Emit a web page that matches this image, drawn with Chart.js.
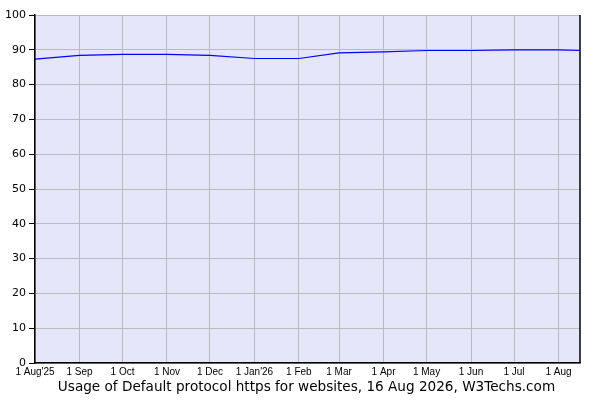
<!DOCTYPE html>
<html>
<head>
<meta charset="utf-8">
<script src="https://cdn.jsdelivr.net/npm/chart.js@4.4.1/dist/chart.umd.min.js"></script>
<style>
  html, body { margin: 0; padding: 0; background: #fff; }
  #wrap { width: 600px; height: 400px; }
</style>
</head>
<body>
<div id="wrap"><canvas id="usage-chart"></canvas></div>
<script>
'use strict';

// sample dates and usage in percent
const sampleDates = ['2025-08-01', '2025-09-01', '2025-10-01', '2025-11-01', '2025-12-01', '2026-01-01',
  '2026-02-01', '2026-03-01', '2026-04-01', '2026-05-01', '2026-06-01', '2026-07-01', '2026-08-01', '2026-08-16'];
const httpsUsage = [87.3, 88.4, 88.7, 88.7, 88.4, 87.5, 87.5, 89.1, 89.4, 89.8, 89.8, 90.0, 90.0, 89.8];

// month ticks on the x axis
const tickDates = ['2025-08-01', '2025-09-01', '2025-10-01', '2025-11-01', '2025-12-01', '2026-01-01',
  '2026-02-01', '2026-03-01', '2026-04-01', '2026-05-01', '2026-06-01', '2026-07-01', '2026-08-01'];
const tickLabels = ["1 Aug'25", '1 Sep', '1 Oct', '1 Nov', '1 Dec', "1 Jan'26",
  '1 Feb', '1 Mar', '1 Apr', '1 May', '1 Jun', '1 Jul', '1 Aug'];

const startDate = '2025-08-01';
const endDate = '2026-08-16';
const captionText = 'Usage of Default protocol https for websites, 16 Aug 2026, W3Techs.com';

const dayOf = function(str){
  const ms = Date.parse(str + 'T00:00:00Z') - Date.parse(startDate + 'T00:00:00Z');
  return Math.round(ms / 86400000);
};

const points = sampleDates.map((d, i) => ({x: dayOf(d), y: httpsUsage[i]}));
const tickDays = tickDates.map(dayOf);

// lavender plot background, right border and the caption under the chart
const plotFrame = {
  id: 'plotFrame',
  beforeDraw(chart){
    const {ctx, chartArea: a} = chart;
    ctx.save();
    ctx.fillStyle = '#e6e6fa';
    ctx.fillRect(a.left, a.top, a.right - a.left, a.bottom - a.top);
    ctx.restore();
  },
  afterDraw(chart){
    const {ctx, chartArea: a} = chart;
    ctx.save();
    ctx.strokeStyle = '#000';
    ctx.lineWidth = 1.5;
    ctx.beginPath();
    ctx.moveTo(a.right, a.top);
    ctx.lineTo(a.right, a.bottom);
    ctx.stroke();

    ctx.fillStyle = '#000';
    ctx.font = '13.6px "DejaVu Sans"';
    ctx.textAlign = 'center';
    ctx.textBaseline = 'middle';
    ctx.fillText(captionText, (a.left + a.right) / 2 - 1, a.bottom + 24);
    ctx.restore();
  }
};

const chart = new Chart(document.getElementById('usage-chart').getContext('2d'), {
  type: 'line',
  data: {
    datasets: [{
      label: 'Default protocol https',
      data: points,
      borderColor: '#0000ff',
      borderWidth: 1.2,
      pointRadius: 0,
      tension: 0,
      fill: false
    }]
  },
  options: {
    responsive: true,
    maintainAspectRatio: false,
    animation: false,
    layout: { padding: { left: 0, right: 20, top: 15, bottom: 22 } },
    plugins: {
      legend: { display: false },
      tooltip: { enabled: false },
      title: { display: false }
    },
    scales: {
      x: {
        type: 'linear',
        min: 0,
        max: dayOf(endDate),
        afterBuildTicks: scale => { scale.ticks = tickDays.map(v => ({value: v})); },
        afterFit: scale => { scale.height = 15; },
        ticks: {
          autoSkip: false,
          maxRotation: 0,
          padding: 3,
          color: '#000',
          font: { family: 'Liberation Sans', size: 10 },
          callback: (v, i) => tickLabels[i]
        },
        grid: { color: '#bbbbbb', drawTicks: false },
        border: { color: '#000', width: 1.5 }
      },
      y: {
        min: 0,
        max: 100,
        afterFit: scale => { scale.width = 35; },
        ticks: {
          stepSize: 10,
          padding: 3,
          color: '#000',
          font: { family: 'DejaVu Sans', size: 11 }
        },
        grid: { color: '#bbbbbb', tickLength: 6, tickColor: '#000' },
        border: { color: '#000', width: 1.5 }
      }
    }
  },
  plugins: [plotFrame]
});
</script>
</body>
</html>
